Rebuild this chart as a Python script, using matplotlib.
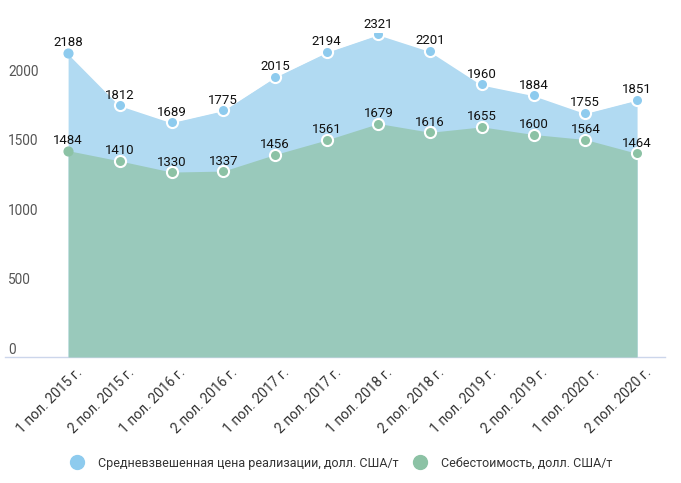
import matplotlib.pyplot as plt
from matplotlib.lines import Line2D
from matplotlib import transforms

plt.rcParams['font.family'] = ['Roboto', 'DejaVu Sans']

periods = ["1 пол. 2015 г.", "2 пол. 2015 г.", "1 пол. 2016 г.", "2 пол. 2016 г.",
           "1 пол. 2017 г.", "2 пол. 2017 г.", "1 пол. 2018 г.", "2 пол. 2018 г.",
           "1 пол. 2019 г.", "2 пол. 2019 г.", "1 пол. 2020 г.", "2 пол. 2020 г."]
price = [2188, 1812, 1689, 1775, 2015, 2194, 2321, 2201, 1960, 1884, 1755, 1851]
cost = [1484, 1410, 1330, 1337, 1456, 1561, 1679, 1616, 1655, 1600, 1564, 1464]
yticks = [0, 500, 1000, 1500, 2000]

name_price = "Средневзвешенная цена реализации, долл. США/т"
name_cost = "Себестоимость, долл. США/т"

blue_fill = "#b1daf2"
blue_mark = "#8ecbee"
green_fill = "#99c9bb"
green_mark = "#8cc2a5"

fig = plt.figure(figsize=(6.81, 4.83), dpi=100)
ax = fig.add_axes([5 / 681, 1 - 357 / 483, 660 / 681, 324 / 483])

x = list(range(len(periods)))

ax.fill_between(x, 0, price, color=blue_fill, lw=0, zorder=1)
ax.plot(x, price, color="white", lw=1.5, zorder=2)
ax.fill_between(x, 0, cost, color=green_fill, lw=0, zorder=3)

# точки: первая без белой обводки
ax.plot(x[:1], price[:1], "o", ms=6.3, color=blue_mark, mec=blue_mark, zorder=5)
ax.plot(x[1:], price[1:], "o", ms=8, color=blue_mark, mec="white", mew=1.5, zorder=5)
ax.plot(x[:1], cost[:1], "o", ms=6.3, color=green_mark, mec=green_mark, zorder=5)
ax.plot(x[1:], cost[1:], "o", ms=8, color=green_mark, mec="white", mew=1.5, zorder=5)

for xi, v in zip(x, price):
    ax.annotate(str(v), (xi, v), xytext=(0, 2.5), textcoords="offset points",
                ha="center", va="bottom", fontsize=9.5, color="#111111", zorder=6)
for xi, v in zip(x, cost):
    ax.annotate(str(v), (xi, v), xytext=(0, 2.5), textcoords="offset points",
                ha="center", va="bottom", fontsize=9.5, color="#111111", zorder=6)

ax.set_xlim(-1.22, 11.54)
ax.set_ylim(0, 2330)

for s in ["top", "right", "left"]:
    ax.spines[s].set_visible(False)
ax.spines["bottom"].set_color("#ccd6eb")
ax.spines["bottom"].set_linewidth(1)

ax.set_yticks([])
trans = transforms.blended_transform_factory(ax.transAxes, ax.transData)
offset = transforms.ScaledTranslation(3 / 100, 7 / 100, fig.dpi_scale_trans)
for t in yticks:
    ax.text(0, t, str(t), transform=trans + offset, ha="left", va="center",
            fontsize=9.8, color="#555555")

ax.set_xticks(x)
ax.set_xticklabels(periods, rotation=45, ha="right", va="top",
                   rotation_mode="anchor", fontsize=10, color="#333333")
ax.tick_params(axis="x", length=0, pad=6)
shift = transforms.ScaledTranslation(7 / 100, 0, fig.dpi_scale_trans)
for lbl in ax.get_xticklabels():
    lbl.set_transform(lbl.get_transform() + shift)

handles = [
    Line2D([], [], marker="o", ls="", ms=10, color=blue_mark, label=name_price),
    Line2D([], [], marker="o", ls="", ms=10, color=green_mark, label=name_cost),
]
fig.legend(handles=handles, loc="center", bbox_to_anchor=(0.497, 1 - 463 / 483),
           ncol=2, frameon=False, fontsize=9, handletextpad=0.7,
           columnspacing=0.7, labelcolor="#333333")

fig.savefig("out.png", dpi=100)
